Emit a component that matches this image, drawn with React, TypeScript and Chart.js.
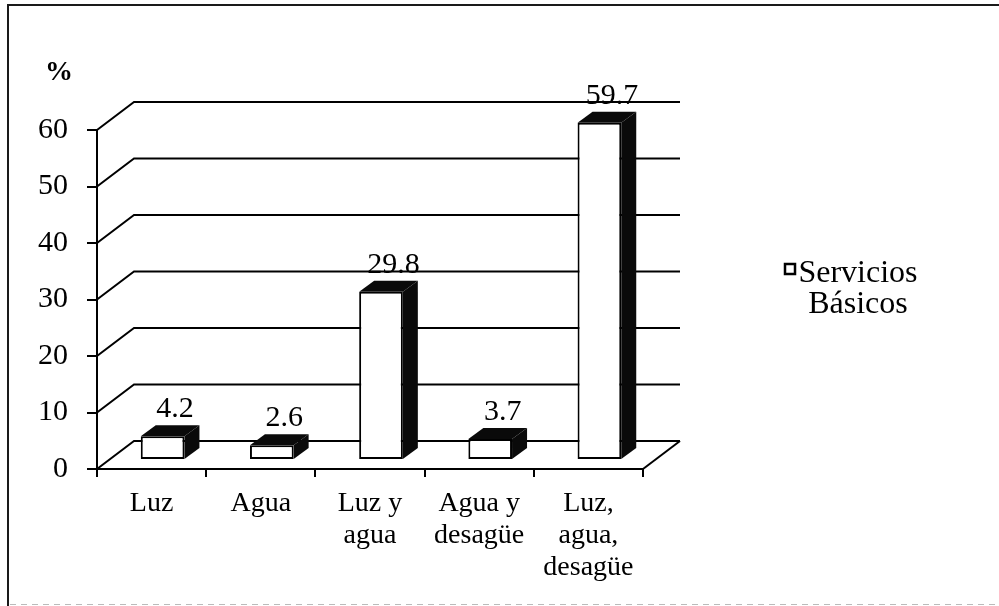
import React, { useEffect, useRef } from 'react';
import { Chart, registerables } from 'chart.js';

Chart.register(...registerables);

// ---- data ----
const categories: string[][] = [
  ['Luz'],
  ['Agua'],
  ['Luz y', 'agua'],
  ['Agua y', 'desagüe'],
  ['Luz,', 'agua,', 'desagüe'],
];
const values: number[] = [4.2, 2.6, 29.8, 3.7, 59.7];
const valueLabels: string[] = ['4.2', '2.6', '29.8', '3.7', '59.7'];
const seriesNameLines: string[] = ['Servicios', 'Básicos'];
const yTickValues: number[] = [0, 10, 20, 30, 40, 50, 60];
const unitLabel = '%';

// ---- style constants ----
const FONT = '"Liberation Serif", "Times New Roman", serif';
const WALL_DX = 37; // back wall offset
const WALL_DY = 28;
const BAR_SHIFT_X = 11; // bars sit a little behind the front plane
const BAR_SHIFT_Y = 9;
const BAR_DX = 15; // bar depth
const BAR_DY = 11;

const threeD = {
  id: 'threeD',
  beforeDatasetsDraw(chart: any) {
    const { ctx, chartArea, scales } = chart;
    const { left, right, bottom } = chartArea;
    const y = scales.y;
    ctx.save();
    ctx.strokeStyle = '#000';
    ctx.lineWidth = 2;
    ctx.lineJoin = 'miter';
    for (const v of yTickValues) {
      const py = y.getPixelForValue(v);
      ctx.beginPath();
      ctx.moveTo(left, py);
      ctx.lineTo(left + WALL_DX, py - WALL_DY);
      ctx.lineTo(right + WALL_DX, py - WALL_DY);
      ctx.stroke();
    }
    // floor right edge
    ctx.beginPath();
    ctx.moveTo(right, bottom);
    ctx.lineTo(right + WALL_DX, bottom - WALL_DY);
    ctx.stroke();
    ctx.restore();
  },
  beforeDatasetDraw(chart: any) {
    chart.ctx.save();
    chart.ctx.translate(BAR_SHIFT_X, -BAR_SHIFT_Y);
  },
  afterDatasetDraw(chart: any) {
    chart.ctx.restore();
  },
  afterDatasetsDraw(chart: any) {
    const { ctx } = chart;
    const meta = chart.getDatasetMeta(0);
    ctx.save();
    meta.data.forEach((el: any, i: number) => {
      const p = el.getProps(['x', 'y', 'base', 'width'], true);
      const x0 = p.x - p.width / 2 + BAR_SHIFT_X;
      const x1 = p.x + p.width / 2 + BAR_SHIFT_X;
      const yT = p.y - BAR_SHIFT_Y;
      const yB = p.base - BAR_SHIFT_Y;
      ctx.fillStyle = '#0a0a0a';
      // top face
      ctx.beginPath();
      ctx.moveTo(x0, yT);
      ctx.lineTo(x0 + BAR_DX, yT - BAR_DY);
      ctx.lineTo(x1 + BAR_DX, yT - BAR_DY);
      ctx.lineTo(x1, yT);
      ctx.closePath();
      ctx.fill();
      // side face
      ctx.beginPath();
      ctx.moveTo(x1, yT);
      ctx.lineTo(x1 + BAR_DX, yT - BAR_DY);
      ctx.lineTo(x1 + BAR_DX, yB - BAR_DY);
      ctx.lineTo(x1, yB);
      ctx.closePath();
      ctx.fill();
      // value label
      ctx.fillStyle = '#000';
      ctx.font = `30px ${FONT}`;
      ctx.textAlign = 'center';
      ctx.textBaseline = 'alphabetic';
      ctx.fillText(valueLabels[i], p.x + BAR_SHIFT_X + 12.5, yT - 19);
    });
    ctx.restore();
  },
  afterDraw(chart: any) {
    const { ctx, width, height } = chart;
    ctx.save();
    // unit label
    ctx.fillStyle = '#000';
    ctx.font = `bold 28px ${FONT}`;
    ctx.textAlign = 'center';
    ctx.textBaseline = 'alphabetic';
    ctx.fillText(unitLabel, 59, 80);
    // legend
    ctx.strokeStyle = '#000';
    ctx.lineWidth = 2.5;
    ctx.fillStyle = '#fff';
    ctx.fillRect(785, 264, 10, 10);
    ctx.strokeRect(785, 264, 10, 10);
    ctx.fillStyle = '#000';
    ctx.font = `32px ${FONT}`;
    ctx.textAlign = 'center';
    ctx.fillText(seriesNameLines[0], 858, 282);
    ctx.fillText(seriesNameLines[1], 858, 313);
    // frame
    ctx.strokeStyle = '#1a1a1a';
    ctx.lineWidth = 2;
    ctx.beginPath();
    ctx.moveTo(8, height);
    ctx.lineTo(8, 5);
    ctx.lineTo(width, 5);
    ctx.stroke();
    ctx.strokeStyle = '#bbb';
    ctx.lineWidth = 1;
    ctx.setLineDash([6, 5]);
    ctx.beginPath();
    ctx.moveTo(10, 604.5);
    ctx.lineTo(width, 604.5);
    ctx.stroke();
    ctx.restore();
  },
};

export default function App() {
  const canvasRef = useRef<HTMLCanvasElement | null>(null);

  useEffect(() => {
    const canvas = canvasRef.current;
    if (!canvas) return;
    const chart = new Chart(canvas, {
      type: 'bar',
      data: {
        labels: categories as any,
        datasets: [
          {
            label: seriesNameLines.join(' '),
            data: values,
            backgroundColor: '#ffffff',
            borderColor: '#000000',
            borderWidth: 2,
            borderSkipped: false,
            barPercentage: 0.4,
            categoryPercentage: 1,
          },
        ],
      },
      options: {
        responsive: false,
        animation: false,
        devicePixelRatio: 1,
        layout: { padding: { left: 0, top: 130, right: 356, bottom: 0 } },
        plugins: {
          legend: { display: false },
          tooltip: { enabled: false },
          title: { display: false },
        },
        scales: {
          x: {
            offset: true,
            grid: {
              offset: true,
              drawOnChartArea: false,
              drawTicks: true,
              tickLength: 8,
              color: '#000',
              lineWidth: 2,
            },
            border: { display: true, color: '#000', width: 2 },
            ticks: {
              color: '#000',
              font: { family: FONT, size: 28, lineHeight: 32 / 28 },
              padding: 11,
              maxRotation: 0,
              autoSkip: false,
            },
            afterFit: (s: any) => {
              s.height = 606 - 469;
            },
          },
          y: {
            min: 0,
            max: 60,
            ticks: {
              stepSize: 10,
              color: '#000',
              font: { family: FONT, size: 30 },
              padding: 19,
            },
            grid: {
              drawOnChartArea: false,
              drawTicks: true,
              tickLength: 10,
              color: '#000',
              lineWidth: 2,
            },
            border: { display: true, color: '#000', width: 2 },
            afterFit: (s: any) => {
              s.width = 97;
            },
          },
        },
      },
      plugins: [threeD],
    });
    return () => chart.destroy();
  }, []);

  return (
    <div style={{ position: 'fixed', left: 0, top: 0, width: 999, height: 606, background: '#fff' }}>
      <canvas ref={canvasRef} width={999} height={606} style={{ display: 'block' }} />
    </div>
  );
}
